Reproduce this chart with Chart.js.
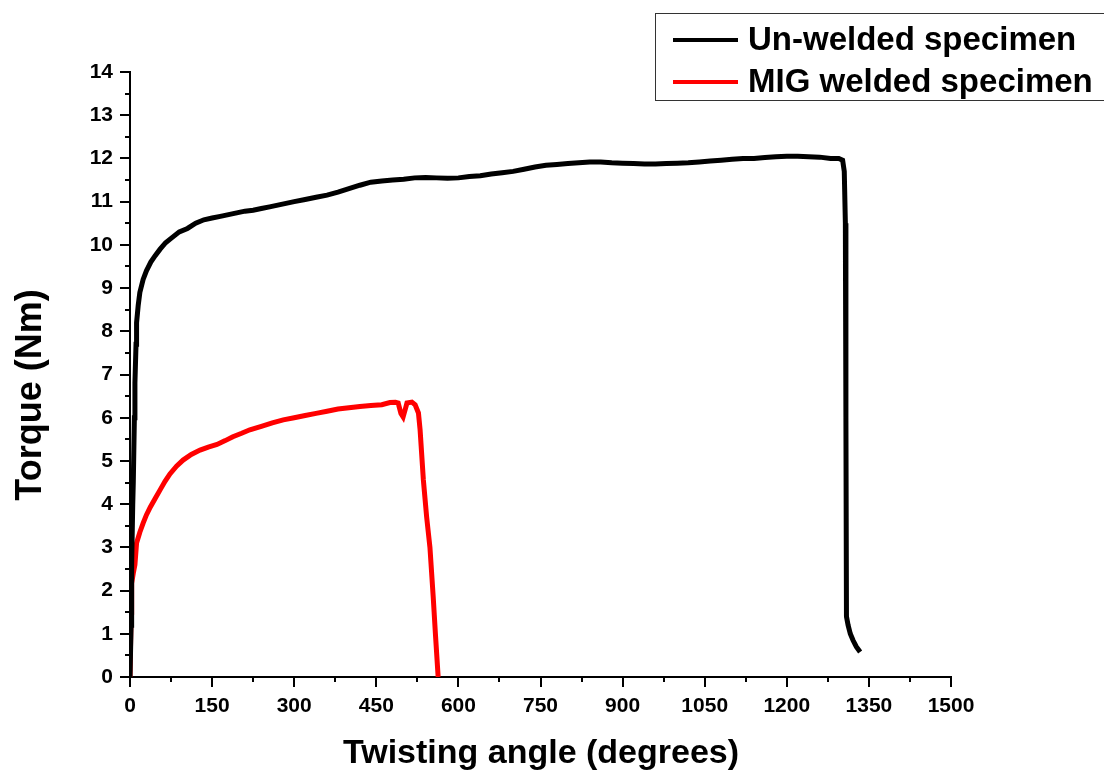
<!DOCTYPE html>
<html>
<head>
<meta charset="utf-8">
<script src="https://cdn.jsdelivr.net/npm/chart.js@4/dist/chart.umd.min.js"></script>
<style>
  html, body { margin: 0; padding: 0; background: #fff; }
  #wrap { width: 1104px; height: 774px; position: relative; }
</style>
</head>
<body>
<div id="wrap"><canvas id="torqueChart" width="1104" height="774"></canvas></div>
<script>
// values
const seriesLabels = ['Un-welded specimen', 'MIG welded specimen'];

const angleUnwelded = [0, 2, 3, 5, 6, 8, 9, 11, 12, 15, 18, 24, 30, 38, 46, 55, 65, 75, 90, 105,
  120, 135, 150, 165, 180, 195, 210, 225, 240, 255, 270, 285, 300, 320, 340, 360, 380, 400, 420, 440,
  460, 480, 500, 520, 540, 560, 580, 600, 620, 640, 660, 680, 700, 720, 740, 760, 780, 800, 820, 840,
  860, 880, 900, 920, 940, 960, 980, 1000, 1020, 1040, 1060, 1080, 1100, 1120, 1140, 1160, 1180, 1200,
  1220, 1240, 1260, 1280, 1295, 1302, 1305, 1307, 1308, 1309, 1312, 1316, 1321, 1327, 1334];
const torqueUnwelded = [0, 1.2, 2.6, 4.0, 4.5, 6.0, 6.8, 7.7, 8.2, 8.6, 8.9, 9.2, 9.4, 9.6, 9.75, 9.9, 10.05, 10.15, 10.3, 10.38,
  10.5, 10.58, 10.62, 10.66, 10.7, 10.74, 10.78, 10.8, 10.84, 10.88, 10.92, 10.96, 11.0, 11.05, 11.1, 11.15, 11.22, 11.3, 11.38, 11.45,
  11.48, 11.5, 11.52, 11.55, 11.56, 11.55, 11.54, 11.55, 11.58, 11.6, 11.64, 11.67, 11.7, 11.75, 11.8, 11.84, 11.86, 11.88, 11.9, 11.92,
  11.92, 11.9, 11.89, 11.88, 11.87, 11.87, 11.88, 11.89, 11.9, 11.92, 11.94, 11.96, 11.98, 12.0, 12.0, 12.02, 12.04, 12.05,
  12.05, 12.04, 12.03, 12.0, 12.0, 11.96, 11.7, 10.5, 6.0, 1.4, 1.2, 1.0, 0.85, 0.7, 0.58];

const angleMig = [0, 1, 2, 3, 6, 9, 12, 18, 24, 30, 37, 46, 55, 64, 73, 85, 97, 112, 128, 143,
  159, 174, 188, 204, 219, 240, 260, 280, 300, 320, 340, 360, 380, 400, 420, 440, 460, 475, 485, 490,
  495, 499, 503, 506, 515, 521, 527, 530, 536, 542, 548, 554, 558, 563];
const torqueMig = [0, 0, 1.5, 2.17, 2.4, 2.6, 3.1, 3.35, 3.56, 3.75, 3.93, 4.13, 4.33, 4.53, 4.7, 4.88, 5.02, 5.15, 5.25, 5.32,
  5.38, 5.47, 5.56, 5.64, 5.72, 5.8, 5.88, 5.95, 6.0, 6.05, 6.1, 6.15, 6.2, 6.23, 6.26, 6.28, 6.3, 6.35, 6.36, 6.34,
  6.1, 6.02, 6.2, 6.34, 6.36, 6.3, 6.11, 5.72, 4.56, 3.7, 3.0, 1.85, 1.0, 0];

const xTicks = [0, 150, 300, 450, 600, 750, 900, 1050, 1200, 1350, 1500];
const yTicks = [0, 1, 2, 3, 4, 5, 6, 7, 8, 9, 10, 11, 12, 13, 14];

const FONT = '"Liberation Sans", Arial, sans-serif';

function toPoints(xs, ys) {
    return xs.map((x, i) => ({ x: x, y: ys[i] }));
}

// tick marks (major + minor), axis titles and the boxed legend
const decorPlugin = {
    id: 'decor',
    afterDraw(chart) {
        const ctx = chart.ctx;
        const xs = chart.scales.x;
        const ys = chart.scales.y;
        const area = chart.chartArea;
        ctx.save();
        ctx.strokeStyle = '#000';
        ctx.lineWidth = 2;

        // x ticks downward
        for (let v = 0; v <= 1500; v += 75) {
            const px = Math.round(xs.getPixelForValue(v));
            const len = (v % 150 === 0) ? 10 : 5;
            ctx.beginPath();
            ctx.moveTo(px, area.bottom);
            ctx.lineTo(px, area.bottom + len);
            ctx.stroke();
        }
        // y ticks to the left
        for (let v = 0; v <= 14; v += 0.5) {
            const py = Math.round(ys.getPixelForValue(v));
            const len = (v % 1 === 0) ? 10 : 5;
            ctx.beginPath();
            ctx.moveTo(area.left, py);
            ctx.lineTo(area.left - len, py);
            ctx.stroke();
        }

        // axis titles
        ctx.fillStyle = '#000';
        ctx.textAlign = 'center';
        ctx.textBaseline = 'middle';
        ctx.font = 'bold 34px ' + FONT;
        ctx.fillText('Twisting angle (degrees)', 541, 754);
        ctx.save();
        ctx.translate(31, 395);
        ctx.rotate(-Math.PI / 2);
        ctx.font = 'bold 36px ' + FONT;
        ctx.fillText('Torque (Nm)', 0, 0);
        ctx.restore();

        // legend box
        ctx.lineWidth = 1;
        ctx.strokeStyle = '#333';
        ctx.strokeRect(655.5, 13.5, 460, 87);
        const rows = [40, 82];
        chart.data.datasets.forEach((ds, i) => {
            ctx.strokeStyle = ds.borderColor;
            ctx.lineWidth = 4;
            ctx.beginPath();
            ctx.moveTo(673, rows[i]);
            ctx.lineTo(738, rows[i]);
            ctx.stroke();
            ctx.fillStyle = '#000';
            ctx.textAlign = 'left';
            ctx.font = 'bold 33px ' + FONT;
            ctx.fillText(ds.label, 748, rows[i] + 1);
        });
        ctx.restore();
    }
};

const ctx = document.getElementById('torqueChart').getContext('2d');
new Chart(ctx, {
    type: 'line',
    data: {
        datasets: [{
            label: seriesLabels[0],
            data: toPoints(angleUnwelded, torqueUnwelded),
            borderColor: '#000000',
            borderWidth: 5,
            pointRadius: 0,
            tension: 0
        }, {
            label: seriesLabels[1],
            data: toPoints(angleMig, torqueMig),
            borderColor: '#ff0000',
            borderWidth: 5,
            pointRadius: 0,
            tension: 0
        }]
    },
    options: {
        responsive: false,
        animation: false,
        layout: { padding: { left: 0, top: 72, right: 153, bottom: 0 } },
        plugins: {
            legend: { display: false },
            tooltip: { enabled: false }
        },
        scales: {
            x: {
                type: 'linear',
                min: 0,
                max: 1500,
                afterBuildTicks: (scale) => { scale.ticks = xTicks.map(v => ({ value: v })); },
                afterFit: (scale) => { scale.height = 97; },
                grid: { display: false, drawTicks: false },
                border: { display: true, color: '#000', width: 2 },
                ticks: {
                    padding: 17,
                    color: '#000',
                    maxRotation: 0,
                    autoSkip: false,
                    callback: (v) => String(v),
                    font: { family: FONT, size: 21, weight: 'bold' }
                }
            },
            y: {
                type: 'linear',
                min: 0,
                max: 14,
                afterBuildTicks: (scale) => { scale.ticks = yTicks.map(v => ({ value: v })); },
                afterFit: (scale) => { scale.width = 130; },
                grid: { display: false, drawTicks: false },
                border: { display: true, color: '#000', width: 2 },
                ticks: {
                    padding: 17,
                    color: '#000',
                    autoSkip: false,
                    callback: (v) => String(v),
                    font: { family: FONT, size: 21, weight: 'bold' }
                }
            }
        }
    },
    plugins: [decorPlugin]
});
</script>
</body>
</html>
